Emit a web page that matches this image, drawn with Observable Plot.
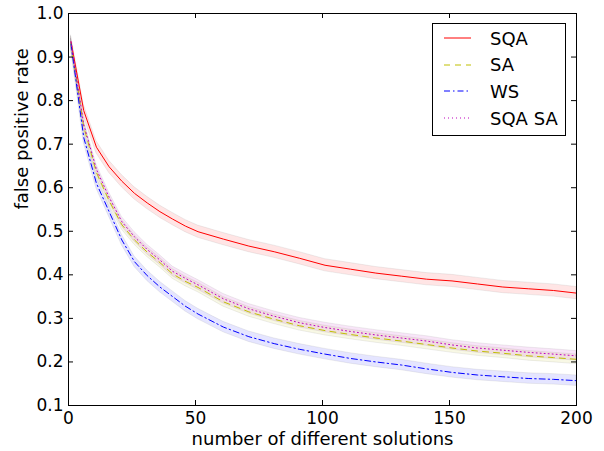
<!DOCTYPE html>
<html><head><meta charset="utf-8">
<script src="https://cdn.jsdelivr.net/npm/d3@7"></script>
<script src="https://cdn.jsdelivr.net/npm/@observablehq/plot@0.6"></script>
<style>
body{margin:0;background:#fff;}
#wrap{position:relative;width:604px;height:451px;font-family:"DejaVu Sans",sans-serif;}
#legend{position:absolute;left:432px;top:23px;width:132px;height:111px;border:1px solid #000;background:#fff;box-sizing:content-box;}
.row{position:absolute;left:0;height:22px;display:flex;align-items:center;font-size:18px;color:#000;}
.row svg{margin-left:11px;margin-right:19px;}
</style></head><body><div id="wrap"></div>
<script>
const xs = [1,6,11,16,21,26,31,36,41,46,51,61,71,81,91,101,111,121,131,141,151,161,171,181,191,200];
const sqa = [0.935,0.777,0.693,0.648,0.615,0.587,0.565,0.545,0.528,0.512,0.499,0.482,0.466,0.453,0.438,0.422,0.413,0.404,0.397,0.390,0.386,0.379,0.372,0.368,0.364,0.358];
const sa = [0.930,0.740,0.635,0.570,0.515,0.480,0.452,0.428,0.402,0.385,0.371,0.338,0.315,0.298,0.283,0.272,0.263,0.255,0.248,0.240,0.232,0.225,0.220,0.214,0.210,0.206];
const ws = [0.930,0.715,0.610,0.545,0.480,0.430,0.398,0.372,0.350,0.328,0.310,0.280,0.258,0.242,0.229,0.218,0.208,0.200,0.193,0.184,0.176,0.170,0.166,0.162,0.160,0.157];
const sqasa = [0.935,0.745,0.642,0.578,0.522,0.487,0.458,0.434,0.408,0.392,0.377,0.345,0.322,0.305,0.290,0.279,0.270,0.262,0.255,0.248,0.239,0.232,0.227,0.222,0.218,0.214];
const seriesNames = ["SQA","SA","WS","SQA SA"];
const seriesValues = [sqa, sa, ws, sqasa];
const seriesErr = [0.014, 0.011, 0.012, 0.011];
const seriesColors = ["#ff0000","#bfbf00","#0000ff","#bf00bf"];
const seriesDash = [null, "6,5", "6,3,1.5,3", "1,3"];
const xTicks = [0,50,100,150,200];
const yTicks = [0.1,0.2,0.3,0.4,0.5,0.6,0.7,0.8,0.9,1.0];

const rows = seriesNames.flatMap((name, k) => xs.map((x, i) => ({
  series: name, x, y: seriesValues[k][i],
  lo: seriesValues[k][i] - seriesErr[k], hi: seriesValues[k][i] + seriesErr[k]
})));

const marks = [];
seriesNames.forEach((name, k) => {
  marks.push(Plot.areaY(rows, {filter: d => d.series === name, x: "x", y1: "lo", y2: "hi",
    fill: seriesColors[k], fillOpacity: 0.1, stroke: "#777", strokeOpacity: 0.12, strokeWidth: 1}));
});
seriesNames.forEach((name, k) => {
  marks.push(Plot.lineY(rows, {filter: d => d.series === name, x: "x", y: "y",
    stroke: seriesColors[k], strokeWidth: 1, strokeDasharray: seriesDash[k]}));
});

const plot = Plot.plot({
  width: 604, height: 451,
  marginLeft: 68, marginRight: 28, marginTop: 13, marginBottom: 46,
  x: {domain: [0, 200]},
  y: {domain: [0.1, 1.0]},
  style: {fontFamily: "DejaVu Sans, sans-serif", fontSize: "17px", background: "white", color: "black"},
  marks: [
    ...marks,
    Plot.tickX(xTicks, {x: d => d, insetTop: 387, stroke: "black"}),
    Plot.tickX(xTicks, {x: d => d, insetBottom: 387, stroke: "black"}),
    Plot.tickY(yTicks, {y: d => d, insetRight: 503, stroke: "black"}),
    Plot.tickY(yTicks, {y: d => d, insetLeft: 503, stroke: "black"}),
    Plot.axisX(xTicks, {tickSize: 0, tickPadding: 6, label: null, fontSize: 17}),
    Plot.axisY(yTicks, {tickSize: 0, tickPadding: 5, label: null, fontSize: 17, tickFormat: d3.format(".1f")}),
    Plot.text(["number of different solutions"], {frameAnchor: "bottom", dy: 39, fontSize: 18, text: d => d}),
    Plot.text(["false positive rate"], {frameAnchor: "left", dx: -46, rotate: -90, fontSize: 18, text: d => d}),
    Plot.frame({stroke: "black", strokeWidth: 1})
  ]
});
const wrap = document.getElementById("wrap");
wrap.appendChild(plot);

const legend = d3.select(wrap).append("div").attr("id", "legend");
seriesNames.forEach((name, k) => {
  const row = legend.append("div").attr("class", "row").style("top", (3 + k * 26.7) + "px");
  const svg = row.append("svg").attr("width", 27).attr("height", 10);
  svg.append("line").attr("x1", 0).attr("x2", 27).attr("y1", 5).attr("y2", 5)
    .attr("stroke", seriesColors[k]).attr("stroke-width", 1)
    .attr("stroke-dasharray", seriesDash[k]);
  row.append("span").text(name);
});
</script>
</body></html>
